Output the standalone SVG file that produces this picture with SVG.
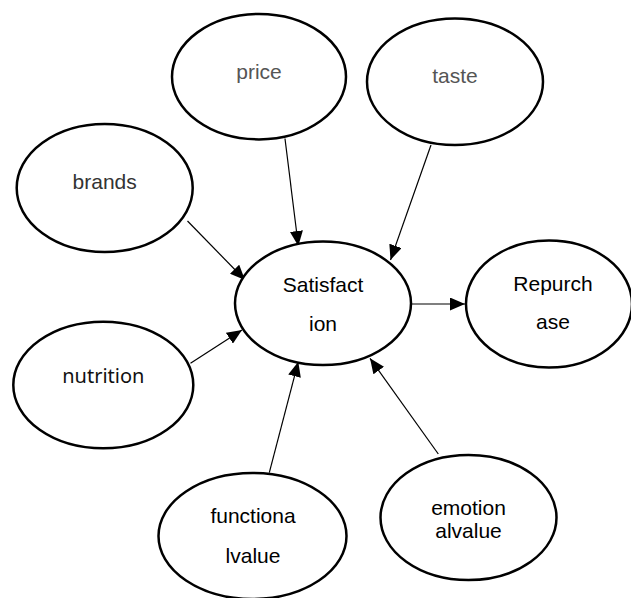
<svg xmlns="http://www.w3.org/2000/svg" width="631" height="598" viewBox="0 0 631 598">
<style>
.node ellipse{fill:#fff;stroke:#000;stroke-width:2.5}
.lbl{font-family:"Liberation Sans",Arial,sans-serif;font-size:21px;text-anchor:middle;fill:#000}
.gray{fill:#555}
.dgray{fill:#333}
.seg{font-family:"Noto Sans","Open Sans",sans-serif;font-size:20px;text-anchor:middle;fill:#111}
#connectors line{stroke:#000;stroke-width:1.2;marker-end:url(#arr)}
</style>
<defs>
<marker id="arr" markerUnits="userSpaceOnUse" markerWidth="15" markerHeight="13" refX="15" refY="6.5" orient="auto">
<path d="M0,0 L15,6.5 L0,13 z" fill="#000"/>
</marker>
</defs>
<rect width="631" height="598" fill="#fff"/>
<g id="connectors">
<line x1="285" y1="138.5" x2="298.3" y2="246"/>
<line x1="431" y1="145" x2="390.5" y2="260"/>
<line x1="187.5" y1="221" x2="245" y2="280"/>
<line x1="190.5" y1="363.3" x2="242" y2="330"/>
<line x1="269.3" y1="472.7" x2="298.3" y2="361.7"/>
<line x1="438.3" y1="454" x2="370" y2="358.3"/>
<line x1="410.7" y1="304" x2="465" y2="304"/>
</g>
<g id="price" class="node"><ellipse cx="259" cy="76.7" rx="87" ry="62.7"/><text class="lbl gray" x="259" y="79">price</text></g>
<g id="taste" class="node"><ellipse cx="455" cy="81.7" rx="88" ry="63.3"/><text class="lbl gray" x="455" y="82.7">taste</text></g>
<g id="brands" class="node"><ellipse cx="104.7" cy="188" rx="88" ry="64"/><text class="lbl dgray" x="104.7" y="189">brands</text></g>
<g id="satisfaction" class="node"><ellipse cx="323" cy="303.3" rx="88" ry="61.7"/><text class="lbl" x="323" y="291.7">Satisfact</text><text class="lbl" x="323" y="330.7">ion</text></g>
<g id="repurchase" class="node"><ellipse cx="549" cy="304" rx="83" ry="63.5"/><text class="lbl" x="553" y="291">Repurch</text><text class="lbl" x="553" y="329.3">ase</text></g>
<g id="nutrition" class="node"><ellipse cx="103.3" cy="385" rx="90" ry="63.3"/><text class="seg" x="103.3" y="382.7">nutrition</text></g>
<g id="functionalvalue" class="node"><ellipse cx="252.5" cy="536" rx="94" ry="63"/><text class="lbl" x="253" y="522.7">functiona</text><text class="lbl" x="253" y="562.7">lvalue</text></g>
<g id="emotionalvalue" class="node"><ellipse cx="468.5" cy="517.5" rx="88" ry="62.5"/><text class="lbl" x="468.5" y="515">emotion</text><text class="lbl" x="468.5" y="538.3">alvalue</text></g>
</svg>
